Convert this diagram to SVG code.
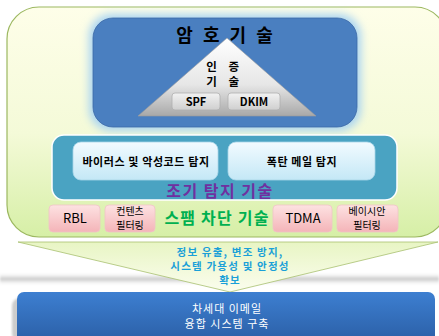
<svg xmlns="http://www.w3.org/2000/svg" width="439" height="336" viewBox="0 0 439 336">
<defs>
<linearGradient id="gOuter" x1="0" y1="0" x2="0" y2="1">
<stop offset="0" stop-color="#fefee9"/><stop offset="0.55" stop-color="#f4fad8"/><stop offset="1" stop-color="#d6efa6"/>
</linearGradient>
<linearGradient id="gTri" x1="0" y1="0" x2="0" y2="1">
<stop offset="0" stop-color="#ffffff"/><stop offset="0.6" stop-color="#e6e6e6"/><stop offset="1" stop-color="#a8a8a8"/>
</linearGradient>
<linearGradient id="gBtn" x1="0" y1="0" x2="0" y2="1">
<stop offset="0" stop-color="#f2f2f2"/><stop offset="1" stop-color="#cfcfcf"/>
</linearGradient>
<linearGradient id="gCyan" x1="0" y1="0" x2="0" y2="1">
<stop offset="0" stop-color="#f2fbff"/><stop offset="1" stop-color="#c4e8f6"/>
</linearGradient>
<linearGradient id="gPink" x1="0" y1="0" x2="0" y2="1">
<stop offset="0" stop-color="#fde2e2"/><stop offset="1" stop-color="#f4b4b8"/>
</linearGradient>
<linearGradient id="gDown" x1="0" y1="0" x2="0" y2="1">
<stop offset="0" stop-color="#e8f5c4"/><stop offset="1" stop-color="#fbfdee"/>
</linearGradient>
<linearGradient id="gBlue" x1="0" y1="0" x2="0" y2="1">
<stop offset="0" stop-color="#3d7fd1"/><stop offset="1" stop-color="#2b5fa6"/>
</linearGradient>
<linearGradient id="gShadow" x1="0" y1="0" x2="0" y2="1">
<stop offset="0" stop-color="#ffffff" stop-opacity="0"/><stop offset="0.5" stop-color="#c8c8c8"/><stop offset="1" stop-color="#ffffff" stop-opacity="0"/>
</linearGradient>
<filter id="glow" x="-10%" y="-15%" width="120%" height="130%">
<feGaussianBlur stdDeviation="4"/>
</filter>
<filter id="soft" x="-5%" y="-20%" width="110%" height="140%">
<feGaussianBlur stdDeviation="1.2"/>
</filter>
</defs>
<style>
text{font-family:"Noto Sans CJK KR","Noto Sans",sans-serif;font-weight:bold;text-anchor:middle}
.btn{fill:url(#gBtn);stroke:#b0b0b0;stroke-width:0.8}
.cy{fill:url(#gCyan);stroke:#a8d6e8;stroke-width:0.8}
.pk{fill:url(#gPink);stroke:#f0c4c6;stroke-width:0.8}
.t13{font-size:13px;fill:#000;font-weight:normal}
.t11{font-size:11px;fill:#000}
.tc{font-size:11px;fill:#000;letter-spacing:0.6px}
.tp{font-size:10px;fill:#000;font-weight:normal}
.td{font-size:10.5px;fill:#1aa0d8;letter-spacing:1.2px}
.tw{font-size:11px;fill:#ffffff;font-weight:normal;letter-spacing:1px}
.ta{font-size:11.5px;fill:#000;letter-spacing:4.5px}
</style>
<g id="outer">
<rect x="7" y="7" width="440" height="230" rx="32" fill="url(#gOuter)" stroke="#9cb860" stroke-width="1.2"/>
</g>
<g id="crypto">
<rect x="89" y="14" width="272" height="117" rx="22" fill="#a9d4f2" filter="url(#glow)"/>
<rect x="93" y="18" width="264" height="109" rx="20" fill="#4a7fc0" stroke="#3d6aa6" stroke-width="0.8"/>
<text x="226" y="42" style="font-size:18px;fill:#000;letter-spacing:3px">암 호 기 술</text>
</g>
<g id="auth">
<polygon points="227,38 316,116 138,116" fill="url(#gTri)" stroke="#9a9a9a" stroke-width="0.6"/>
<text x="225" y="70.5" class="ta">인 증</text>
<text x="225" y="85.5" class="ta">기 술</text>
</g>
<g id="spf">
<rect x="172" y="93" width="48" height="17" rx="3" class="btn"/>
<text x="196" y="106" class="t11">SPF</text>
</g>
<g id="dkim">
<rect x="228" y="93" width="52" height="17" rx="3" class="btn"/>
<text x="254" y="106" class="t11">DKIM</text>
</g>
<g id="early">
<rect x="52" y="135" width="345" height="65" rx="12" fill="#4aa3c2" stroke="#ffffff" stroke-width="1.5"/>
<text x="220" y="197" style="font-size:16px;fill:#7030a0;letter-spacing:1.5px">조기 탐지 기술</text>
</g>
<g id="virus">
<rect x="73" y="142" width="145" height="38" rx="8" class="cy"/>
<text x="146" y="166" class="tc">바이러스 및 악성코드 탐지</text>
</g>
<g id="bomb">
<rect x="228" y="142" width="147" height="38" rx="8" class="cy"/>
<text x="302" y="166" class="tc">폭탄 메일 탐지</text>
</g>
<g id="spam">
<text x="217" y="224" style="font-size:16px;fill:#00b050;letter-spacing:1.2px">스팸 차단 기술</text>
</g>
<g id="rbl">
<rect x="49" y="205" width="51" height="27" rx="4" class="pk"/>
<text x="75" y="223" class="t13">RBL</text>
</g>
<g id="content">
<rect x="105" y="205" width="50" height="27" rx="4" class="pk"/>
<text x="130" y="215" class="tp">컨텐츠</text>
<text x="130" y="229" class="tp">필터링</text>
</g>
<g id="tdma">
<rect x="273" y="205" width="59" height="27" rx="4" class="pk"/>
<text x="303" y="223" class="t13">TDMA</text>
</g>
<g id="bayes">
<rect x="337" y="205" width="61" height="27" rx="4" class="pk"/>
<text x="367" y="215" class="tp">베이시안</text>
<text x="367" y="229" class="tp">필터링</text>
</g>
<g id="connectors">
<rect x="0" y="272" width="439" height="14" fill="url(#gShadow)" filter="url(#soft)"/>
<polygon points="18,242 438,242 230,292" fill="url(#gDown)" stroke="#a8c070" stroke-width="0.8"/>
<text x="230" y="256" class="td">정보 유출, 변조 방지,</text>
<text x="230" y="270" class="td">시스템 가용성 및 안정성</text>
<text x="230" y="284" class="td">확보</text>
</g>
<g id="result">
<rect x="12" y="298" width="420" height="44" rx="8" fill="#9a9a9a" opacity="0.5" filter="url(#soft)"/>
<rect x="17" y="292" width="418" height="50" rx="7" fill="url(#gBlue)"/>
<text x="227" y="313" class="tw">차세대 이메일</text>
<text x="227" y="327.5" class="tw">융합 시스템 구축</text>
</g>
</svg>
